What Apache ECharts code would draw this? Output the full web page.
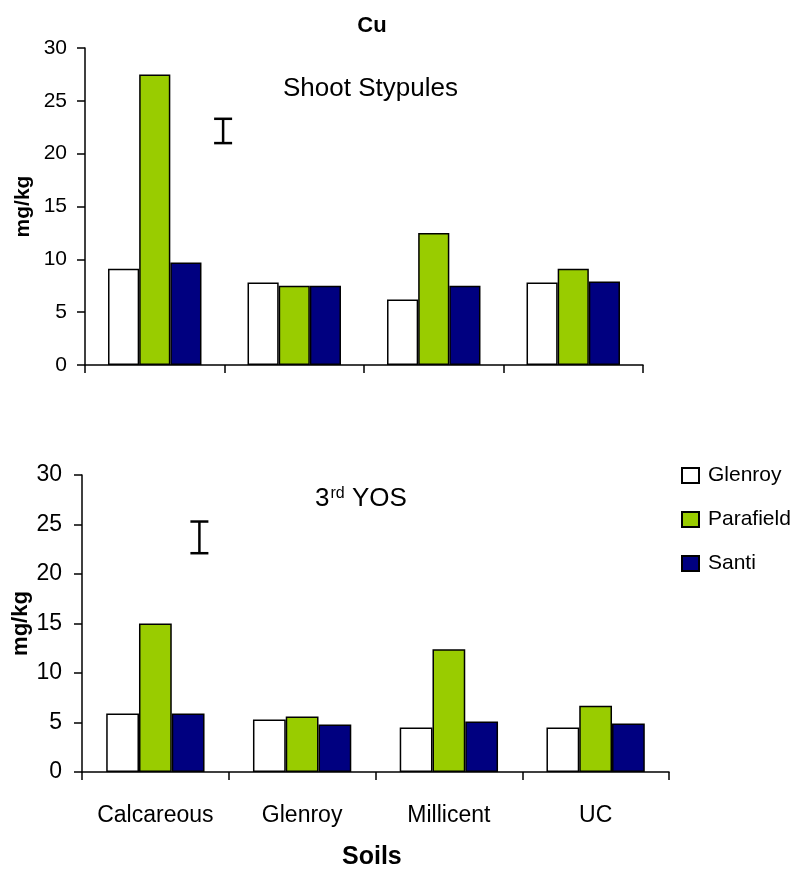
<!DOCTYPE html>
<html>
<head>
<meta charset="utf-8">
<title>Cu</title>
<script src="https://cdn.jsdelivr.net/npm/echarts@6/dist/echarts.min.js"></script>
<style>
  html, body { margin: 0; padding: 0; background: #fff; }
  #chart { width: 796px; height: 874px; }
</style>
</head>
<body>
<div id="chart"></div>
<script>
// Soil types on the category axis
const soils = ['Calcareous', 'Glenroy', 'Millicent', 'UC'];
const varieties = ['Glenroy', 'Parafield', 'Santi'];
const yTicks = [0, 5, 10, 15, 20, 25, 30];

// Cu concentration (mg/kg) in shoot stypules
const stypGlenroy   = [9.1, 7.8, 6.2, 7.8];
const stypParafield = [27.5, 7.5, 12.5, 9.1];
const stypSanti     = [9.7, 7.5, 7.5, 7.9];

// Cu concentration (mg/kg) in the 3rd youngest open shoot
const yosGlenroy   = [5.9, 5.3, 4.5, 4.5];
const yosParafield = [15.0, 5.6, 12.4, 6.7];
const yosSanti     = [5.9, 4.8, 5.1, 4.9];

// LSD bars: [position along the soil axis, lower end, upper end]
const stypLsd = [[0.99, 21.0, 23.3]];
const yosLsd  = [[0.80, 22.1, 25.3]];

const colors = { Glenroy: '#FFFFFF', Parafield: '#99CC00', Santi: '#000080' };
const FONT = 'Liberation Sans, Arial, sans-serif';

const chart = echarts.init(document.getElementById('chart'));

function yAxis(gridIndex, fontSize, margin, nameSize, nameGap) {
  return {
    type: 'value', gridIndex, min: yTicks[0], max: yTicks[yTicks.length - 1], interval: 5,
    name: 'mg/kg', nameLocation: 'middle', nameGap, nameMoveOverlap: false,
    nameTextStyle: { fontFamily: FONT, fontWeight: 'bold', fontSize: nameSize, color: '#000' },
    axisLine: { show: true, lineStyle: { color: '#000', width: 1.5 } },
    axisTick: { show: true, length: 8, lineStyle: { color: '#000', width: 1.5 } },
    axisLabel: { fontFamily: FONT, fontSize, color: '#000', margin },
    splitLine: { show: false }
  };
}

function xAxis(gridIndex, showLabels) {
  return {
    type: 'category', gridIndex, data: soils,
    axisLine: { show: true, lineStyle: { color: '#000', width: 1.5 } },
    axisTick: { show: true, length: 8, interval: 0, lineStyle: { color: '#000', width: 1.5 } },
    axisLabel: { show: showLabels, interval: 0, fontFamily: FONT, fontSize: 23, color: '#000', margin: 32 }
  };
}

function bars(name, data, idx) {
  return {
    type: 'bar', name, data, xAxisIndex: idx, yAxisIndex: idx,
    barGap: '0%', barCategoryGap: '33%',
    itemStyle: { color: colors[name], borderColor: '#000', borderWidth: 1.5 },
    emphasis: { disabled: true }, animation: false
  };
}

function lsdSeries(data, xIdx, yIdx) {
  return {
    type: 'custom', name: 'LSD', data, xAxisIndex: xIdx, yAxisIndex: yIdx,
    animation: false, silent: true,
    renderItem(params, api) {
      const lo = api.coord([api.value(0), api.value(1)]);
      const hi = api.coord([api.value(0), api.value(2)]);
      const half = 9;
      const st = { stroke: '#000', lineWidth: 2.5 };
      return {
        type: 'group', children: [
          { type: 'line', shape: { x1: lo[0], y1: lo[1], x2: hi[0], y2: hi[1] }, style: st },
          { type: 'line', shape: { x1: lo[0] - half, y1: lo[1], x2: lo[0] + half, y2: lo[1] }, style: st },
          { type: 'line', shape: { x1: hi[0] - half, y1: hi[1], x2: hi[0] + half, y2: hi[1] }, style: st }
        ]
      };
    }
  };
}

chart.setOption({
  backgroundColor: '#fff',
  animation: false,
  title: {
    text: 'Cu', left: 367, top: 10, textAlign: 'center',
    textStyle: { fontFamily: FONT, fontWeight: 'bold', fontSize: 22, color: '#000' }
  },
  grid: [
    { left: 85, right: 153, top: 48, bottom: 509, outerBoundsMode: 'none' },
    { left: 82, right: 127, top: 475, bottom: 102, outerBoundsMode: 'none' }
  ],
  legend: {
    data: varieties, orient: 'vertical', left: 681, top: 465, padding: 0,
    itemWidth: 17, itemHeight: 15, itemGap: 23, icon: 'rect',
    textStyle: { fontFamily: FONT, fontSize: 21, color: '#000', padding: [0, 0, 0, 4] },
    selectedMode: false
  },
  xAxis: [
    xAxis(0, false),
    xAxis(1, true),
    { type: 'value', gridIndex: 0, min: 0, max: soils.length, show: false },
    { type: 'value', gridIndex: 1, min: 0, max: soils.length, show: false }
  ],
  yAxis: [yAxis(0, 21, 18, 21, 51), yAxis(1, 23, 20, 22, 50)],
  graphic: [
    {
      type: 'text', left: 283, top: 76,
      style: { text: 'Shoot Stypules', fontFamily: FONT, fontSize: 26, fill: '#000' }
    },
    {
      type: 'text', left: 315, top: 486,
      style: {
        text: '{n|3}{s|rd}{n| YOS}',
        rich: {
          n: { fontFamily: FONT, fontSize: 26, fill: '#000', verticalAlign: 'bottom' },
          s: { fontFamily: FONT, fontSize: 16, fill: '#000', verticalAlign: 'bottom', padding: [0, 0, 10, 1] }
        }
      }
    },
    {
      type: 'text', left: 342, top: 845,
      style: { text: 'Soils', fontFamily: FONT, fontWeight: 'bold', fontSize: 25, fill: '#000' }
    }
  ],
  series: [
    bars('Glenroy', stypGlenroy, 0),
    bars('Parafield', stypParafield, 0),
    bars('Santi', stypSanti, 0),
    bars('Glenroy', yosGlenroy, 1),
    bars('Parafield', yosParafield, 1),
    bars('Santi', yosSanti, 1),
    lsdSeries(stypLsd, 2, 0),
    lsdSeries(yosLsd, 3, 1)
  ]
});
</script>
</body>
</html>
